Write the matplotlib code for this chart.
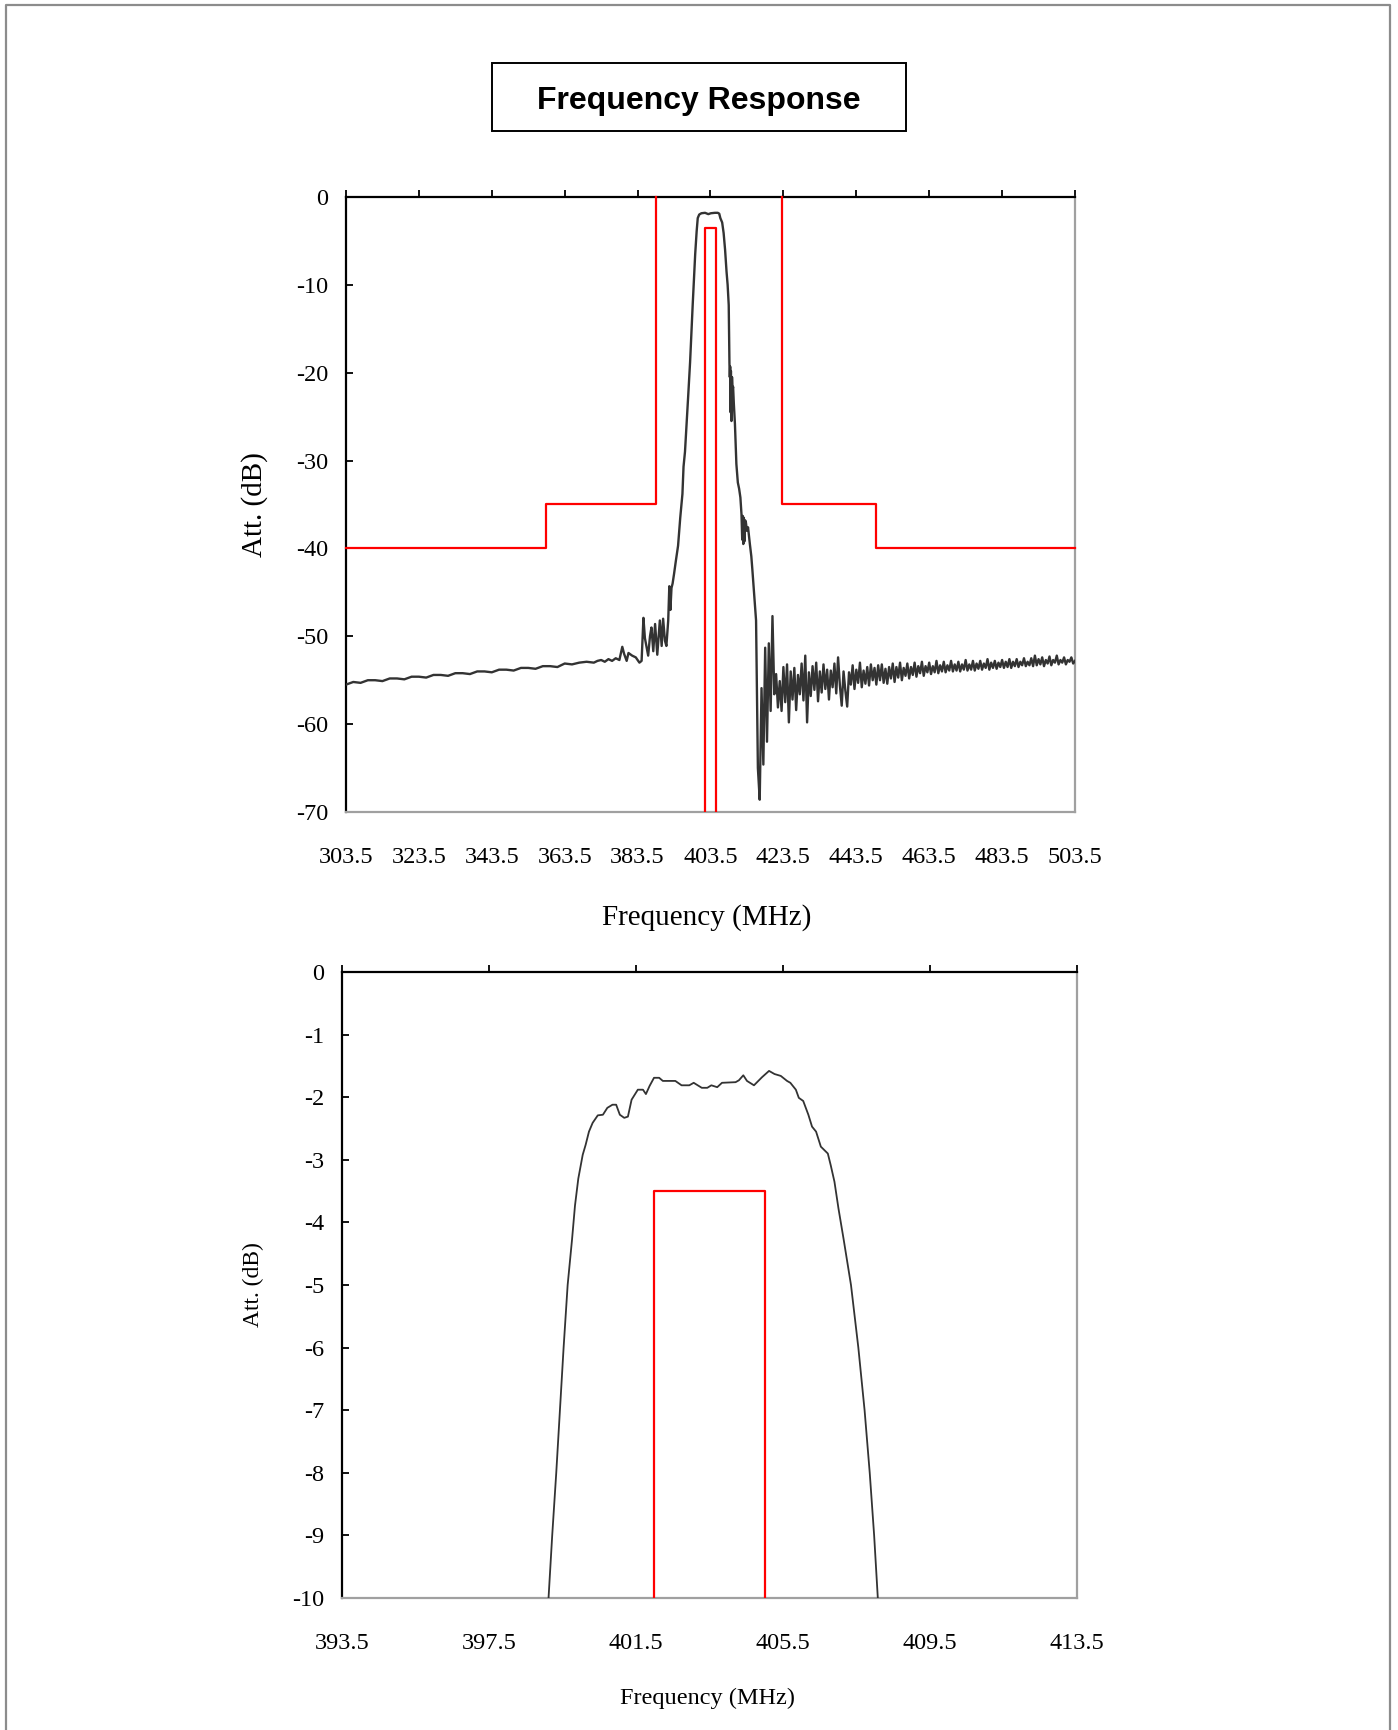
import numpy as np
import matplotlib
matplotlib.use('Agg')
import matplotlib.pyplot as plt
from matplotlib.lines import Line2D
from matplotlib.patches import Rectangle

plt.rcParams['axes.unicode_minus'] = False
SERIF = ['Liberation Serif', 'DejaVu Serif']

# ---------------- data: wide-span response (top chart) ----------------
top_xticks = [303.5, 323.5, 343.5, 363.5, 383.5, 403.5, 423.5, 443.5, 463.5, 483.5, 503.5]
top_yticks = [0, -10, -20, -30, -40, -50, -60, -70]

# lower stopband
lsb_freq = [303.5, 305.5, 307.5, 309.5, 311.5, 313.5, 315.5, 317.5, 319.5, 321.5,
            323.5, 325.5, 327.5, 329.5, 331.5, 333.5, 335.5, 337.5, 339.5, 341.5,
            343.5, 345.5, 347.5, 349.5, 351.5, 353.5, 355.5, 357.5, 359.5, 361.5,
            363.5, 365.5, 367.5, 369.5, 371.5]
lsb_db = [-55.5, -55.2, -55.3, -55.0, -55.0, -55.1, -54.8, -54.8, -54.9, -54.6,
          -54.6, -54.7, -54.4, -54.4, -54.5, -54.2, -54.2, -54.3, -54.0, -54.0,
          -54.1, -53.8, -53.8, -53.9, -53.6, -53.6, -53.7, -53.4, -53.4, -53.5,
          -53.1, -53.2, -53.0, -52.9, -53.0]

# skirts and passband
pb_freq = [372.5, 373.5, 374.5, 375.5, 376.5, 377.5, 378.5, 379.3, 379.8, 380.5,
           381.0, 382.0, 383.0, 384.0, 384.6, 385.1, 385.5, 386.0, 386.4, 386.9,
           387.3, 387.8, 388.3, 388.9, 389.6, 390.1, 390.5, 391.0, 391.4, 391.9,
           392.2, 392.5, 392.8, 393.1, 393.5, 394.0, 394.6, 395.2, 395.8, 396.1,
           396.5, 397.0, 397.4, 397.9, 398.3, 398.6, 399.0, 399.3, 399.7, 400.0,
           400.4, 401.0, 402.0, 402.9, 403.6, 404.7, 405.5, 405.9, 406.2, 406.7,
           407.1, 407.5, 407.9, 408.2, 408.5, 408.7, 408.8, 408.9, 409.0, 409.1,
           409.25, 409.4, 409.55, 409.7, 409.9, 410.2, 410.6, 411.0, 411.35, 411.7,
           412.0, 412.2, 412.35, 412.5, 412.65, 412.8, 413.0, 413.2, 413.5, 413.8,
           414.3, 414.7, 415.0, 415.4, 415.8]
pb_db = [-52.8, -52.7, -52.9, -52.6, -52.8, -52.5, -52.7, -51.2, -52.0, -52.8,
         -51.9, -52.2, -52.4, -53.0, -52.8, -47.9, -50.2, -51.3, -52.2, -50.0,
         -49.0, -51.7, -48.6, -52.1, -48.2, -51.1, -48.0, -50.5, -51.1, -48.2,
         -44.3, -47.0, -44.5, -44.0, -42.9, -41.4, -39.7, -36.5, -33.8, -30.7,
         -29.0, -25.5, -22.5, -18.8, -15.0, -12.4, -9.0, -6.5, -3.9, -2.4,
         -2.0, -1.85, -1.8, -1.95, -1.85, -1.8, -1.8, -1.9, -2.4, -2.9,
         -4.1, -6.0, -8.5, -10.0, -12.3, -19.0, -20.5, -19.3, -24.5, -19.8,
         -25.5, -20.5, -22.0, -21.6, -23.5, -25.8, -30.4, -32.5, -33.2, -34.2,
         -36.1, -39.0, -36.3, -39.5, -36.5, -39.2, -36.8, -37.0, -38.0, -37.6,
         -39.5, -40.9, -42.5, -44.8, -47.0]

# upper stopband, sampled every 0.5 MHz from 416.0 to 503.5
usb_start, usb_step = 416.0, 0.5
usb_db = [-48.2, -65.0, -68.6, -55.9, -64.6, -51.3, -62.0, -50.8, -58.5, -47.7,
          -56.6, -54.3, -58.1, -55.1, -58.5, -53.5, -57.5, -53.2, -59.8, -54.0,
          -57.2, -53.6, -58.4, -54.4, -56.6, -53.1, -57.3, -52.2, -59.8, -54.1,
          -56.8, -53.4, -56.1, -53.0, -57.4, -54.0, -56.4, -53.2, -56.0, -53.8,
          -57.2, -53.9, -55.8, -53.1, -56.5, -52.4, -55.6, -57.9, -54.0, -56.2,
          -58.0, -54.1, -55.5, -53.3, -56.0, -53.8, -55.3, -53.0, -55.8, -53.9,
          -55.4, -53.5, -55.6, -53.2, -55.0, -53.6, -55.5, -53.3,
          -55.0, -53.2, -55.3, -53.7, -55.4, -53.5, -54.8, -53.1, -55.2, -53.5,
          -54.7, -53.0, -55.0, -53.6, -54.5, -53.1, -54.8, -53.5, -54.4, -53.0,
          -54.6, -53.4, -54.2, -52.9, -54.5, -53.4, -54.1, -53.0, -54.3, -53.4,
          -54.1, -52.8, -54.2, -53.3, -54.0, -52.9, -54.1, -53.3, -53.9, -52.8,
          -54.0, -53.2, -53.9, -52.9, -54.0, -53.2, -53.8, -52.7, -53.9, -53.2,
          -53.8, -52.8, -53.9, -53.1, -53.7, -52.8, -53.8, -53.1, -53.6, -52.6,
          -53.8, -53.0, -53.6, -52.8, -53.7, -53.0, -53.5, -52.7, -53.6, -52.9,
          -53.5, -52.6, -53.6, -52.9, -53.4, -52.6, -53.5, -52.9, -53.3, -52.5,
          -53.4, -52.9, -53.3, -52.5, -53.4, -52.2, -53.3, -52.6, -53.2, -52.4,
          -53.4, -52.7, -53.1, -52.3, -53.3, -52.7, -53.0, -52.2, -53.2, -52.7,
          -53.0, -52.4, -53.2, -52.7, -52.9, -52.4, -53.1, -52.8]
usb_freq = usb_start + usb_step * np.arange(len(usb_db))

# spec mask (top chart)
mask_left_x = [303.5, 358.3, 358.3, 388.5, 388.5]
mask_left_y = [-40, -40, -35, -35, 0]
mask_right_x = [423.2, 423.2, 448.8, 448.8, 503.5]
mask_right_y = [0, -35, -35, -40, -40]
pass_lo, pass_hi, pass_il = 402.0, 405.0, -3.5

# ---------------- data: passband zoom (bottom chart) ----------------
bot_xticks = [393.5, 397.5, 401.5, 405.5, 409.5, 413.5]
bot_yticks = [0, -1, -2, -3, -4, -5, -6, -7, -8, -9, -10]
bot_freq = [399.12, 399.22, 399.33, 399.43, 399.53, 399.64, 399.76, 399.84, 399.93, 400.05,
            400.13, 400.22, 400.32, 400.46, 400.60, 400.72, 400.86, 400.96, 401.06, 401.18,
            401.28, 401.38, 401.55, 401.69, 401.77, 401.87, 401.99, 402.13, 402.23, 402.57,
            402.74, 402.95, 403.07, 403.29, 403.44, 403.55, 403.71, 403.84, 404.21, 404.30,
            404.42, 404.52, 404.71, 404.93, 405.12, 405.27, 405.44, 405.61, 405.70, 405.85,
            405.93, 406.05, 406.19, 406.29, 406.40, 406.53, 406.72, 406.80, 406.90, 407.01,
            407.15, 407.35, 407.55, 407.72, 407.86, 407.98, 408.08]
bot_db = [-10.0, -9.0, -8.0, -7.0, -6.0, -5.0, -4.27, -3.73, -3.30, -2.92,
          -2.76, -2.55, -2.41, -2.29, -2.28, -2.17, -2.12, -2.12, -2.28, -2.33,
          -2.31, -2.04, -1.88, -1.88, -1.95, -1.82, -1.69, -1.69, -1.74, -1.74,
          -1.81, -1.81, -1.77, -1.85, -1.85, -1.81, -1.84, -1.77, -1.76, -1.73,
          -1.65, -1.74, -1.81, -1.68, -1.58, -1.63, -1.66, -1.74, -1.77, -1.88,
          -2.01, -2.06, -2.28, -2.47, -2.55, -2.79, -2.90, -3.09, -3.35, -3.78,
          -4.27, -5.0, -6.0, -7.0, -8.0, -9.0, -10.0]

# ---------------- figure ----------------
W, H = 1398, 1730
fig = plt.figure(figsize=(W / 100, H / 100), dpi=100)
fig.patch.set_facecolor('white')


def fx(px):
    return px / W


def fy(py):
    return 1 - py / H


# outer frame (open at the bottom)
fig.add_artist(Line2D([fx(6), fx(6), fx(1390), fx(1390)], [0, fy(5), fy(5), 0],
                      transform=fig.transFigure, color='#8c8c8c', lw=1.6))

# title box
fig.add_artist(Rectangle((fx(492), fy(131)), (906 - 492) / W, (131 - 63) / H,
                         transform=fig.transFigure, fill=False, edgecolor='black', lw=1.4))
fig.text(fx(699), fy(101), 'Frequency Response', ha='center', va='center',
         fontsize=23, fontweight='bold', family=['Liberation Sans', 'DejaVu Sans'])

LINE = '#333333'
RED = '#ff0000'


def style(ax, xticks, yticks, xlim, ylim):
    ax.set_xlim(*xlim)
    ax.set_ylim(*ylim)
    ax.set_xticks(xticks)
    ax.set_xticklabels([f'{v:.1f}' for v in xticks])
    ax.set_yticks(yticks)
    ax.set_yticklabels([f'{v:d}' for v in yticks])
    ax.tick_params(axis='x', bottom=False, top=True, labelbottom=True, labeltop=False,
                   direction='out', length=5, width=1.3, pad=20.5, labelsize=17.5)
    ax.tick_params(axis='y', left=True, right=False, direction='in', length=5,
                   width=1.3, pad=13, labelsize=17.5)
    for lab in ax.get_xticklabels() + ax.get_yticklabels():
        lab.set_family(SERIF)
    for s in ('top', 'left'):
        ax.spines[s].set_color('black')
        ax.spines[s].set_linewidth(1.6)
    for s in ('right', 'bottom'):
        ax.spines[s].set_color('#a0a0a0')
        ax.spines[s].set_linewidth(1.6)


# ---- top chart ----
ax1 = fig.add_axes([fx(346), fy(812), (1075 - 346) / W, (812 - 197) / H])
style(ax1, top_xticks, top_yticks, (303.5, 503.5), (-70, 0))
top_freq = np.concatenate([lsb_freq, pb_freq, usb_freq])
top_db = np.concatenate([lsb_db, pb_db, usb_db])
ax1.plot(top_freq, top_db, color=LINE, lw=1.7, zorder=3)
ax1.plot(mask_left_x, mask_left_y, color=RED, lw=1.6, zorder=4, clip_on=False)
ax1.plot(mask_right_x, mask_right_y, color=RED, lw=1.6, zorder=4, clip_on=False)
ax1.plot([pass_lo, pass_lo, pass_hi, pass_hi], [-70, pass_il, pass_il, -70],
         color=RED, lw=1.6, zorder=4)
fig.text(fx(255), fy(505), 'Att. (dB)', rotation=90, ha='center', va='center',
         fontsize=21, family=SERIF)
fig.text(fx(707), fy(918), 'Frequency (MHz)', ha='center', va='center',
         fontsize=21, family=SERIF)

# ---- bottom chart ----
ax2 = fig.add_axes([fx(342), fy(1598), (1077 - 342) / W, (1598 - 972) / H])
style(ax2, bot_xticks, bot_yticks, (393.5, 413.5), (-10, 0))
ax2.plot(bot_freq, bot_db, color=LINE, lw=1.3, zorder=3)
ax2.plot([pass_lo, pass_lo, pass_hi, pass_hi], [-10, pass_il, pass_il, -10],
         color=RED, lw=1.6, zorder=4)
fig.text(fx(253), fy(1285), 'Att. (dB)', rotation=90, ha='center', va='center',
         fontsize=17, family=SERIF)
fig.text(fx(708), fy(1698), 'Frequency (MHz)', ha='center', va='center',
         fontsize=17.5, family=SERIF)

fig.savefig('out.png', dpi=100, facecolor='white')
